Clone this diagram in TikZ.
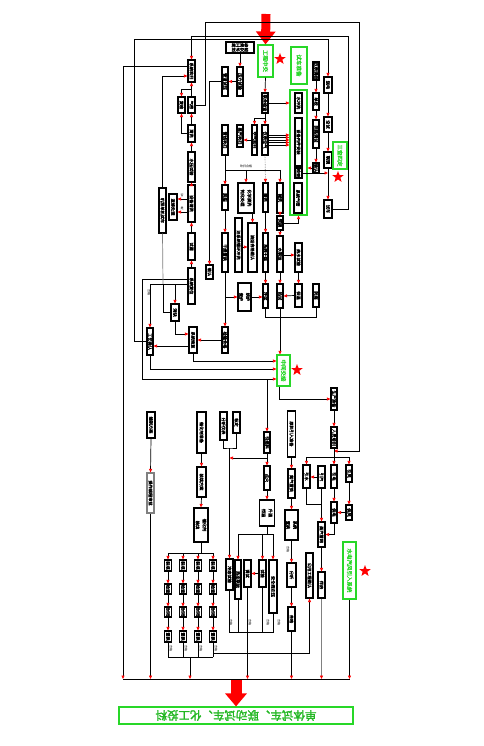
\documentclass[tikz,border=0pt]{standalone}
\usepackage{fontspec}
\setmainfont[AutoFakeBold=2]{Noto Sans CJK SC}
\usetikzlibrary{arrows.meta,shapes.geometric}
\definecolor{grn}{RGB}{40,215,40}
\tikzset{
  blk/.style={draw, line width=1.1pt, inner sep=0pt, font=\fontsize{4.2}{4.6}\selectfont\bfseries},
  gbox/.style={blk, draw=grn, text=grn, line width=1.1pt, font=\fontsize{5.5}{6}\selectfont\bfseries},
  ln/.style={line width=0.7pt},
  ar/.style={ln, -{Triangle[color=red, length=3.5pt, width=3pt]}},
  lbl/.style={inner sep=0pt, font=\fontsize{3}{3}\selectfont},
  hot/.style={star, star points=5, star point ratio=2.4, fill=red, inner sep=0pt, minimum size=12pt},
}
% box from (x1,y1) to (x2,y2), text turned on its side
\newcommand{\bx}[7][]{\node[blk,#1,minimum width={((#5)-(#3))*1pt},minimum height={((#6)-(#4))*1pt}] (#2) at ({((#3)+(#5))/2},{((#4)+(#6))/2}) {\rotatebox{-90}{#7}};}

\begin{document}
\begin{tikzpicture}[x=1pt,y=-1pt]
\useasboundingbox (0,0) rectangle (483,746);

% upper left column
\bx{E}{188}{60}{195}{82}{系统吹扫}
\bx{G}{188}{97}{195}{113}{气密}
\bx{F}{178}{97}{185}{113}{复检}
\bx{K}{188}{125}{195}{142}{清洗}
\bx{L}{188}{152}{195}{182}{水压试验}
\bx{M}{188}{185}{195}{222}{设备清洗}
\bx{Mb}{169}{194}{177}{220}{返修处理}
\bx{N}{188}{233}{195}{260}{试漏}
\bx{O}{188}{268}{195}{304}{系统复位}
\bx{S}{159}{188}{166}{233}{机泵单机试车}
\bx{P}{171}{304}{179}{321}{消缺}
\bx{Q}{189}{327}{197}{353}{系统恢复}
\bx{R}{147}{328}{153}{355}{工艺确认}
\bx{T}{206}{265}{213}{279}{确认}

% upper middle
\node[blk, minimum width=28pt, minimum height=11pt, align=center] (A) at (240,47.5) {施工准备\\技术交底};
\bx{H}{222}{67}{228}{96}{管道试压}
\bx{B}{237}{67}{243}{96}{压力试验}
\bx[gbox]{Ga}{258}{45}{273}{77}{工程中交}
\bx[gbox]{Gb}{291}{47}{307}{84}{试车准备}
\bx{I}{262}{93}{268}{113}{联合检查}
\bx{W}{222}{125}{228}{155}{管线吹扫}
\bx{V}{237}{125}{243}{147}{蒸汽吹扫}
\bx{Ua}{252}{125}{257}{155}{空气吹扫}
\bx{Ub}{262}{125}{268}{155}{仪表空气}
\bx{Xa}{222}{185}{228}{210}{脱脂}
\bx{Xb}{238}{183}{254}{213}{\shortstack{化学清洗\\钝化处理}}
\bx{Xc}{263}{183}{268}{212}{酸洗}
\bx{Xd}{277}{183}{283}{213}{碱洗}
\bx{Ya}{235}{218}{242}{272}{油系统循环冲洗}
\bx{Yb}{248}{223}{257}{272}{油运合格确认}
\bx{Xe}{222}{233}{228}{272}{干燥置换}
\bx{Zc}{263}{233}{268}{272}{系统干燥}
\bx{Zd}{277}{216}{283}{230}{预膜}
\bx{Ze}{277}{236}{283}{272}{水联运}
\bx{Zf}{295}{243}{302}{272}{热水试验}
\bx{Wb}{238}{283}{251}{311}{\shortstack{烘炉\\煮炉}}
\bx{Aa}{263}{284}{268}{308}{冷试}
\bx{Ab}{277}{284}{283}{308}{热试}
\bx{Ac}{295}{284}{302}{307}{保温}
\bx{Ad}{313}{284}{319}{307}{防腐}
\bx{Qq}{222}{327}{228}{353}{检验合格}
\bx[gbox]{Ge}{277}{355}{290}{386}{中间交接}

% upper right
\bx[gbox]{Gc}{290}{90}{307}{215}{}
\bx{ga}{295}{93}{302}{113}{水冲洗}
\bx{gb}{295}{118}{302}{166}{设备内件安装}
\bx{gc}{295}{168}{302}{178}{检查}
\bx{gd}{294}{183}{302}{213}{系统气密}
\bx{C}{313}{62}{319}{80}{仪表调校}
\bx{Cb}{313}{93}{319}{110}{单校}
\bx{Cc}{313}{120}{319}{148}{回路调试}
\bx{Cd}{313}{163}{319}{173}{确认}
\bx{D}{324}{77}{332}{93}{送电}
\bx{Db}{324}{117}{332}{132}{空试}
\bx{Dc}{324}{152}{332}{168}{联锁}
\bx{Dd}{324}{200}{332}{218}{试车}
\bx[gbox]{Gd}{333}{142}{347}{169}{三查四定}

% lower part
\bx{Ra}{331}{388}{337}{410}{生产准备}
\bx{Rb}{331}{427}{337}{448}{人员培训}
\bx{La}{147}{412}{155}{438}{编制方案}
\bx[draw=gray]{Lb}{147}{473}{154}{513}{操作规程审批}
\bx{cat1}{197}{412}{206}{453}{催化剂准备}
\bx{cat2}{197}{467}{206}{497}{装填方案}
\bx{cat3}{194}{508}{208}{542}{\shortstack{催化剂\\装填}}
\bx{Na}{220}{412}{227}{440}{分析仪表}
\bx{Nb}{233}{412}{240}{433}{标定}
\bx{Oa}{264}{432}{270}{453}{引燃料}
\bx{Ob}{264}{466}{270}{490}{点火}
\bx{Oc}{259.5}{500}{274.5}{526}{\shortstack{升温\\恒温}}
\bx{Pa}{287.5}{411}{295.5}{457}{原料引入准备}
\bx{Pb}{288}{469}{295}{498}{氮气置换}
\bx{Pc}{285}{510}{298}{540}{\shortstack{系统\\置换}}
\bx{Pd}{287}{563}{296}{587}{分析}
\bx{Pe}{288}{607}{295}{631}{合格}
\bx{ut1}{303}{465}{310}{488}{引水}
\bx{ut2}{318}{466}{325}{488}{引汽}
\bx{ut3}{331}{465}{337}{488}{引电}
\bx{ut4}{346}{465}{352}{482}{引风}
\bx{ut5}{331}{502}{337}{523}{供电}
\bx{ut6}{346}{505}{352}{520}{供风}
\bx{ut7}{318}{522}{325}{547}{蒸汽管网}
\bx{ut8}{318}{572}{325}{598}{伴热}
\bx{ut9}{306}{553}{313}{598}{公用工程确认}
\bx[gbox]{Gf}{343}{542}{356}{599}{水电汽风引入系统}
\bx{nc1}{226}{559}{233}{590}{冷态试验}
\bx{nc2}{235}{560}{241}{599}{热态联运}
\bx{nc3}{244}{560}{251}{587}{调试}
\bx{nc4}{259}{560}{266}{587}{试验}
\bx{nc5}{269}{560}{277}{613}{安全阀定压}

\node[draw=grn, line width=1.1pt, minimum width=234pt, minimum height=17pt, text=grn!85!black, inner sep=0pt, font=\fontsize{11.5}{12}\selectfont\bfseries] (goal) at (236,715.5) {\rotatebox{180}{单体试车、联动试车、化工投料}};

\node[hot] (s1) at (280,59) {};
\node[hot] (s2) at (338,177) {};
\node[hot] (s3) at (297,370) {};
\node[hot] (s4) at (365,571) {};

\coordinate (bus) at (0,679);
\coordinate (b1) at (123,679);
\coordinate (gf) at (191.5,89.5);
\coordinate (isp) at (265,118);
\coordinate (wsp) at (225,170);
\coordinate (gj) at (267,379);
\coordinate (rsp) at (334,457);
\coordinate (nj) at (229.5,448);
\coordinate (qj) at (190,657);
\coordinate (ba) at (236,680);

% big arrows
\draw[red, line width=9pt, -{Triangle[length=13pt, width=19pt]}] (266,14) -- (Ga.north);
\draw[red, line width=11pt, -{Triangle[length=13pt, width=21pt]}] (ba) -- (goal.north);

% outer loops
\draw[ar] (G.east) -| (205,22) -| (359,451) -- (Rb.south |- 0,451);
\draw[ar] (Dd.east) -| (348,36) -| (E.north);
\draw[ar] (R.west) -| (134,39) -| (D.north);
\draw[ar] ([yshift=5pt]E.west) -| (b1);
\draw[ar] (S.north) |- ([yshift=-5pt]E.west);

% left column
\draw[ar] (G.north) -- (E.south);
\draw[ar] (gf) -| (F.north);
\draw[ar] (K.north) -- (G.south);
\draw[ar] (K.west) -| (F.south);
\draw[ar] (L.north) -- (K.south);
\draw[ar] (M.north) -- (L.south);
\draw[ar] (N.north) -- (M.south);
\draw[ar] (O.north) -- (N.south);
\draw[ar] (M.west |- 0,199) -- (Mb.east |- 0,199);
\draw[ar] (M.west |- 0,212) -- (Mb.east |- 0,212);
\node[lbl] (l1) at (182,195) {否};
\node[lbl] (l2) at (182,208) {是};
\draw[ar] (O.west |- 0,279) -| (142,379) -- (Ge.west |- 0,379);
\draw[ar] (O.west |- 0,284) -| (R.north);
\draw[ar] (P.north |- 0,284) -- (P.north);
\draw[ln, gray] (S.south) -- (163,284);
\draw[ln] (163,284) |- (P.west);
\draw[ar] (P.south) |- (Q.west |- 0,334);
\draw[ar] (Q.west |- 0,346) -- (R.east |- 0,346);
\draw[ar] (Qq.west) -- (Qq.west -| Q.east);
\draw[ar] (R.south) |- (Ge.west |- 0,369);
\draw[ar] (Q.south) |- (Ge.west |- 0,361);
\node[lbl] (l3) at (149,292) {\rotatebox{-90}{合格}};

% middle
\draw[ar] (A.south) -- (B.north);
\draw[ar] (B.west) -- (H.east);
\draw[ar] (H.west) -| (T.north);
\draw[ar] (Ga.south) -- (I.north);
\draw[ar] (I.east) -- (I.east -| Gc.west);
\draw[ln] (I.south) -- (isp);
\draw[ar] (isp) -- (Ub.north);
\draw[ar] (isp) -| (Ua.north);
\draw[ar] (Ua.west) -- (Ua.west -| V.east);
\foreach \yy in {135,137.5,140,142.5,145}
  \draw[ar] (Ub.east |- 0,\yy) -- (Gc.west |- 0,\yy);
\draw[ar, gray, densely dotted] (Ub.south) -- (Xc.north);
\draw[ln] (W.south) -- (wsp) -- (Xd.north |- wsp);
\draw[ar] (wsp) -- (Xa.north);
\draw[ar] (Xb.north |- wsp) -- (Xb.north);
\draw[ar] (Xd.north |- wsp) -- (Xd.north);
\node[lbl] (l4) at (246,166) {吹扫合格};
\draw[ar] (Xa.south) -- (Xe.north);
\draw[ar] (Xb.south -| Yb.north) -- (Yb.north);
\draw[ar] (Ya.east |- 0,247) -- (Yb.west |- 0,247);
\draw[ar] (Xc.south) -- (Zc.north);
\draw[ar] (Xd.south) -- (Zd.north);
\draw[ar] (Zd.south) -- (Ze.north);
\draw[ar] (Zd.east) -| (Gc.south);
\draw[ar] (Ze.east |- 0,255) -- (Zf.west |- 0,255);
\draw[ar] (Xe.south) -- (Qq.north);
\draw[ar] (Xe.south |- Wb.west) -- (Wb.west);
\draw[ar] (Wb.east |- 0,297) -- (Aa.west |- 0,297);
\draw[ar] (Zc.south) -- (Aa.north);
\draw[ar] (Ze.south) -- (Ab.north);
\draw[ar] (Zf.south) -- (Ac.north);
\draw[ar] (Ac.west) -- (Ab.east);
\draw[ln] (Aa.south) |- (Ad.south |- 0,317) -- (Ad.south);
\draw[ar] (Ab.south) -- (Ab.south |- Ge.north);

% right
\draw[ar] (C.south) -- (Cb.north);
\draw[ar] (Cb.south) -- (Cc.north);
\draw[ar] (Cc.south) -- (Cd.north);
\draw[ar] (Cd.west) -- (Cd.west -| Gc.east);
\draw[ar] (D.south) -- (Db.north);
\draw[ar] (Db.south) -- (Dc.north);
\draw[ar] (Dc.south) -- (Dd.north);
\draw[ar] (gc.east) -- (gc.east -| Dc.south);

% lower
\draw[ar] ([xshift=-4.5pt]Ge.south) |- (Ra.west);
\draw[ar] (Ra.south) -- (Rb.north);
\draw[ln] (Rb.south) -- (rsp);
\draw[ar] (rsp) -- (ut3.north);
\draw[ar] (rsp) -| (ut1.north);
\draw[ar] (rsp) -| (ut4.north);
\draw[ar] (ut2.west) -- (ut2.west -| ut1.east);
\draw[ln] (ut1.south) |- (ut7.north |- 0,504);
\draw[ar] (ut2.south) -- (ut7.north);
\draw[ar] (ut3.south) -- (ut5.north);
\draw[ar] (ut4.south) -- (ut6.north);
\draw[ar] (ut6.west) -- (ut6.west -| ut5.east);
\draw[ar] (ut5.south) |- (ut7.east);
\draw[ar] (ut7.south) -- (ut8.north);
\draw[ar, gray] (ut8.south) -- (ut8.south |- bus);
\draw[ar] (Gf.south) -- (Gf.south |- bus);

\draw[ar] (La.south) -- (Lb.north);
\draw[ar] (Lb.south) -- (Lb.south |- bus);
\draw[ar] (cat1.south) -- (cat2.north);
\draw[ar] (cat2.south) -- (cat3.north);
\foreach \c/\xx in {1/168,2/183,3/198,4/213}{
  \foreach \r/\ya/\yb/\t in {1/560/571/装填,2/584/594/检查,3/607/617/封闭,4/631/642/置换}{
    \bx{q\c\r}{\xx-3.5}{\ya}{\xx+3.5}{\yb}{\t}
  }
  \draw[ar] (q\c1.north |- 0,553) -- (q\c1.north);
  \draw[ar] (q\c1.south) -- (q\c2.north);
  \draw[ar] (q\c2.south) -- (q\c3.north);
  \draw[ar] (q\c3.south) -- (q\c4.north);
  \draw[ln] (q\c4.south) -- (q\c4.south |- 0,657);
  \node[lbl] (lq\c) at (\xx+3,648) {\rotatebox{-90}{合格}};
}
\draw[ln] (cat3.south) -- (cat3.south |- 0,553);
\draw[ln] (q11.north |- 0,553) -- (q41.north |- 0,553);
\draw[ln] (q14.south |- 0,657) -- (q44.south |- 0,657);
\draw[ar] (qj) -- (qj |- bus);
\draw[ar] (q44.south |- 0,653) -| (ut9.south);

\draw[ln] (Na.south) |- (nj) -| (Nb.south);
\draw[ar] (nj) -- (nc1.north);
\draw[ar] (gj) -- (Oa.north);
\draw[ar] (Oa.south) -- (Ob.north);
\draw[ar] (Oa.south |- 0,458) -- (nj |- 0,458);
\draw[ar] (Ob.south) -- (Oc.north);
\draw[ln] (Oc.south) -- (Oc.south |- 0,534);
\draw[ln] (nc2.north |- 0,534) -- (nc5.north |- 0,534);
\foreach \n in {nc2,nc4,nc5}
  \draw[ar] (\n.north |- 0,534) -- (\n.north);
\draw[ar] (nc4.west) -- (nc4.west -| nc3.east);
\draw[ln] (nc1.south) |- (nc5.south |- 0,632) -- (nc5.south);
\foreach \n in {nc2,nc4}
  \draw[ln] (\n.south) -- (\n.south |- 0,632);
\draw[ar] (nc3.south) -- (nc3.south |- bus);
\foreach \n/\xx in {a/231,b/250,c/268,d/279}
  \node[lbl] (ln\n) at (\xx,622) {\rotatebox{-90}{合格}};

\draw[ar] (Pa.south) -- (Pb.north);
\draw[ar] (Pb.south) -- (Pc.north);
\draw[ar] (Pc.south) -- (Pd.north);
\draw[ar] (Pd.south) -- (Pe.north);
\draw[ar] (Pe.south) -- (Pe.south |- bus);
\node[lbl] (lp) at (288,549) {\rotatebox{-90}{合格}};

% bottom bus
\draw[ln] (b1) -- (Gf.south |- bus);
\end{tikzpicture}
\end{document}
